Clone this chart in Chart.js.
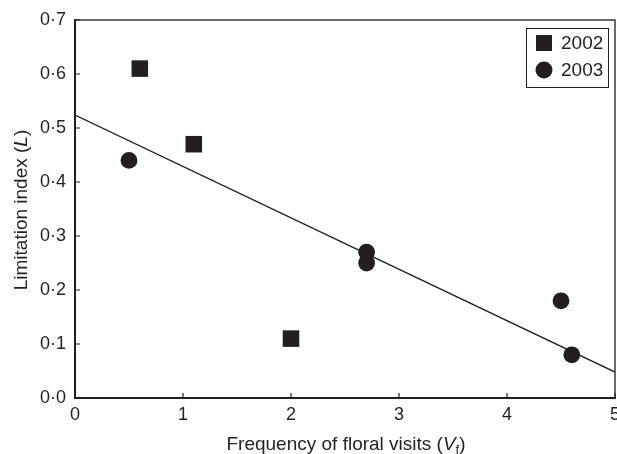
<!DOCTYPE html>
<html>
<head>
<meta charset="utf-8">
<script src="https://cdn.jsdelivr.net/npm/chart.js@4"></script>
<style>
  body { margin: 0; background: #fff; overflow: hidden; }
  #wrap { width: 617px; height: 454px; position: relative; }
  canvas { display: block; }
</style>
</head>
<body>
<div id="wrap"><canvas id="chart"></canvas></div>
<script>
// --- Data ---
const x2002 = [0.6, 1.1, 2.0];
const y2002 = [0.61, 0.47, 0.11];
const x2003 = [0.5, 2.7, 2.7, 4.5, 4.6];
const y2003 = [0.44, 0.27, 0.25, 0.18, 0.08];
const fitX = [0, 5];
const fitY = [0.524, 0.048];
const xTickLabels = ['0', '1', '2', '3', '4', '5'];
const yTickLabels = ['0·0', '0·1', '0·2', '0·3', '0·4', '0·5', '0·6', '0·7'];

const ink = '#231f20';
const font = '"Liberation Sans", Arial, sans-serif';

const toPoints = (xs, ys) => xs.map((x, i) => ({ x: x, y: ys[i] }));

// frame, inward ticks, axis titles, legend
const extras = {
    id: 'extras',
    afterDraw(chart) {
        const ctx = chart.ctx;
        const a = chart.chartArea;
        const xs = chart.scales.x;
        const ys = chart.scales.y;
        ctx.save();

        // top + right frame
        ctx.strokeStyle = '#3a3a3a';
        ctx.lineWidth = 1.5;
        ctx.beginPath();
        ctx.moveTo(a.left, a.top);
        ctx.lineTo(a.right, a.top);
        ctx.lineTo(a.right, a.bottom);
        ctx.stroke();

        // inward ticks
        ctx.strokeStyle = ink;
        ctx.lineWidth = 1.2;
        ctx.beginPath();
        xs.ticks.forEach(t => {
            const px = xs.getPixelForValue(t.value);
            ctx.moveTo(px, a.bottom);
            ctx.lineTo(px, a.bottom - 5);
        });
        ys.ticks.forEach(t => {
            const py = ys.getPixelForValue(t.value);
            ctx.moveTo(a.left, py);
            ctx.lineTo(a.left + 5, py);
        });
        ctx.stroke();

        // axis titles
        ctx.fillStyle = ink;
        ctx.textBaseline = 'alphabetic';
        const normal = '19px ' + font;
        const italic = 'italic 19px ' + font;
        const small = '13px ' + font;
        function runs(parts) {
            let w = 0;
            parts.forEach(p => { ctx.font = p[1]; w += ctx.measureText(p[0]).width; });
            return w;
        }
        function drawRuns(parts, x, y) {
            parts.forEach(p => {
                ctx.font = p[1];
                ctx.fillText(p[0], x, y + (p[2] || 0));
                x += ctx.measureText(p[0]).width;
            });
        }
        const xt = [['Frequency of floral visits (', normal], ['V', italic], ['f', small, 4], [')', normal]];
        const xw = runs(xt);
        drawRuns(xt, (a.left + a.right) / 2 + 1 - xw / 2, 450);

        const yt = [['Limitation index (', normal], ['L', italic], [')', normal]];
        const yw = runs(yt);
        ctx.save();
        ctx.translate(27, 210);
        ctx.rotate(-Math.PI / 2);
        drawRuns(yt, -yw / 2, 0);
        ctx.restore();

        // legend
        ctx.strokeStyle = ink;
        ctx.lineWidth = 1;
        ctx.strokeRect(526.5, 28.5, 82, 59);
        ctx.font = '19px ' + font;
        ctx.textBaseline = 'middle';
        chart.data.datasets.slice(0, 2).forEach((ds, i) => {
            const cy = 43 + i * 27;
            ctx.fillStyle = ds.backgroundColor;
            if (ds.pointStyle === 'rect') {
                ctx.fillRect(536, cy - 8, 16, 16);
            } else {
                ctx.beginPath();
                ctx.arc(544, cy, 8.5, 0, Math.PI * 2);
                ctx.fill();
            }
            ctx.fillStyle = ink;
            ctx.fillText(ds.label, 561, cy + 1);
        });
        ctx.restore();
    }
};

new Chart(document.getElementById('chart'), {
    type: 'scatter',
    data: {
        datasets: [
            {
                label: '2002',
                data: toPoints(x2002, y2002),
                pointStyle: 'rect',
                pointRadius: 11.7,
                backgroundColor: ink,
                borderColor: ink,
                borderWidth: 0
            },
            {
                label: '2003',
                data: toPoints(x2003, y2003),
                pointStyle: 'circle',
                pointRadius: 8.4,
                backgroundColor: ink,
                borderColor: ink,
                borderWidth: 0
            },
            {
                label: 'fit',
                type: 'line',
                data: toPoints(fitX, fitY),
                borderColor: ink,
                borderWidth: 1.4,
                pointRadius: 0,
                fill: false
            }
        ]
    },
    options: {
        responsive: true,
        maintainAspectRatio: false,
        animation: false,
        events: [],
        layout: { autoPadding: false, padding: { left: 0, right: 2, top: 20, bottom: 0 } },
        plugins: {
            legend: { display: false },
            tooltip: { enabled: false }
        },
        scales: {
            x: {
                type: 'linear',
                min: 0,
                max: 5,
                grid: { display: false, drawTicks: false },
                border: { display: true, color: ink, width: 2 },
                ticks: {
                    stepSize: 1,
                    padding: 6,
                    color: ink,
                    font: { family: font, size: 18 },
                    maxRotation: 0,
                    callback: v => xTickLabels[Math.round(v)]
                },
                afterFit(s) { s.height = 56; s.paddingLeft = 0; s.paddingRight = 0; }
            },
            y: {
                type: 'linear',
                min: 0,
                max: 0.7,
                grid: { display: false, drawTicks: false },
                border: { display: true, color: ink, width: 2 },
                ticks: {
                    stepSize: 0.1,
                    padding: 9,
                    color: ink,
                    font: { family: font, size: 18 },
                    callback: v => yTickLabels[Math.round(v * 10)]
                },
                afterFit(s) { s.width = 75; s.paddingTop = 0; s.paddingBottom = 0; }
            }
        }
    },
    plugins: [extras]
});
</script>
</body>
</html>
